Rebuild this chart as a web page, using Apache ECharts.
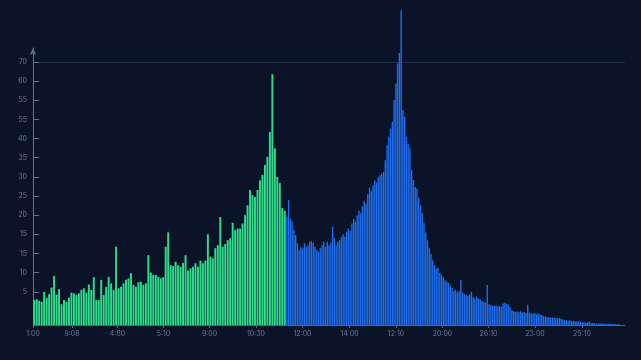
<!DOCTYPE html>
<html>
<head>
<meta charset="utf-8">
<script src="https://cdn.jsdelivr.net/npm/echarts@6/dist/echarts.min.js"></script>
<style>
html,body{margin:0;padding:0;background:#0a1328;}
#chart{width:641px;height:360px;}
</style>
</head>
<body>
<div id="chart"></div>
<script>
// ---- data ----
const greenValues = [
  6.5, 6.7, 6.3, 6.0, 8.6, 7.1, 8.0, 9.7, 12.7, 7.9, 9.3, 5.4, 6.5, 6.0, 7.1, 8.4, 8.2, 7.8, 8.2, 9.1,
  9.5, 8.4, 10.5, 9.1, 12.4, 6.5, 6.5, 11.7, 7.8, 9.9, 12.5, 10.8, 9.1, 20.3, 9.5,
  9.9, 10.8, 11.7, 12.1, 13.4, 10.4, 9.9, 11.1, 11.2, 10.4, 10.8, 18.1, 13.6, 13, 13, 12.5, 12.1, 12.4,
  20.3, 24, 15.5, 15.3, 16.4, 15.5, 15.1, 16.1, 18.1, 14.1, 14.7, 15.1, 16, 15.1, 16.7, 16, 16.7, 23.5,
  17.7, 17.3, 19.9, 20.7, 28, 20.3, 21, 22, 22.5, 26.5, 24.6, 25, 25, 26.3, 28.5,
  31, 35, 33.7, 33.2, 35, 37.5, 38.9, 41.5, 43.6, 50, 65, 45.8, 38.4, 36.8, 30.3, 29.6
];
const blueValues = [
  28, 32.4, 27.6, 26.8, 24.6, 23.3, 21.2, 19.4, 20.3, 19.9, 21.2, 20.3, 20.7, 21.6, 21.8, 21.3, 20.3, 19.4, 19, 19.9,
  20.7, 21.6, 20.3, 21.6, 20.7, 21.3, 25.5, 22.5, 20.7, 21.6,
  22, 22.8, 23.5, 22.9, 24.2, 25, 24.4,
  26.3, 27.5, 26.8, 28.4, 29.6, 29,
  30.8, 32.2, 31.5, 33.9, 35.6, 34.8,
  36.2, 37.5, 36.9, 38.3, 38.8,
  39.3, 39.7, 42.7, 46.6, 48.8, 50.9, 52.7, 58.3, 62.6, 67.8, 70.5, 81.6, 55.7, 54, 48.8, 47, 45.8, 40.2, 37.6, 35.8, 35.4, 33, 31,
  29, 26.5, 24, 22, 20, 18.5, 16.8, 15.5, 14.6,
  14.8, 13.5, 13, 12.4, 11.6, 11.2, 10.9, 10.2, 9.6,
  8.8, 9.2, 8.5, 8.9, 11.7, 8.4,
  8.0, 7.8, 7.5, 7.9, 8.6, 7.2, 6.9, 7.4,
  6.9, 6.6, 6.2, 6.0, 5.8,
  10.4,
  5.4, 5.2, 5.0, 4.9, 5.1, 4.8, 5.0, 4.7,
  5.6, 5.8, 5.5, 5.3, 4.6,
  3.8, 3.6, 3.4, 3.5, 3.3, 3.6, 3.2, 3.4, 3.1,
  5.2,
  3.2, 3.0, 2.9, 3.1, 2.8, 3.0, 2.7, 2.6,
  2.3, 2.2, 2.0, 2.1, 1.9, 2.0, 1.8, 1.9, 1.7, 1.8, 1.6,
  1.4, 1.3, 1.2, 1.1, 1.2, 1.0, 1.1, 0.9, 1.0, 0.9, 0.8, 0.8,
  0.7, 0.6, 0.6, 0.9,
  0.5, 0.5, 0.45, 0.4, 0.4, 0.4, 0.35, 0.35, 0.3, 0.3, 0.3, 0.3, 0.25, 0.25, 0.25, 0.2, 0.2
];
const greenCategories = greenValues.map((_, i) => 'A' + (i + 1));
const blueCategories = blueValues.map((_, i) => 'B' + (i + 1));

const yTickValues = [8.6, 13.57, 18.53, 23.5, 28.46, 33.43, 38.39, 43.36, 48.32, 53.29, 58.25, 63.22, 68.18];
const yTickLabels = ['5', '10', '15', '15', '20', '25', '30', '35', '40', '55', '55', '60', '70'];
const xTickValues = [0, 39, 84.5, 130.5, 176.5, 223, 269.5, 316.5, 363, 409.5, 455.5, 502, 549];
const xTickLabels = ['1:00', '9:08', '4:60', '5:10', '9:00', '10:30', '12:00', '14:00', '12:10', '20:00', '26:10', '23:00', '25:10'];

const Y_MAX = 71.8;
const X_MAX = 592;

// ---- chart ----
const chart = echarts.init(document.getElementById('chart'), null, { renderer: 'canvas' });
const axisColor = '#56637f';
const labelColor = '#6d7892';

function nearestLabel(v, vals, labels) {
  let best = 0, d = Infinity;
  vals.forEach((t, i) => { const dd = Math.abs(t - v); if (dd < d) { d = dd; best = i; } });
  return labels[best];
}

const splitColors = yTickValues.map((_, i) => i === yTickValues.length - 1 ? 'rgba(120,140,180,0.22)' : 'rgba(0,0,0,0)');

chart.setOption({
  backgroundColor: '#0a1328',
  animation: false,
  grid: [
    { left: 33, right: 16, top: 48, bottom: 35 },
    { left: 33, width: 253, top: 48, bottom: 35 },
    { left: 286, width: 334, top: 48, bottom: 35 }
  ],
  xAxis: [
    {
      gridIndex: 0, type: 'value', min: 0, max: X_MAX,
      axisLine: { show: true, lineStyle: { color: axisColor, width: 1 } },
      axisTick: { show: true, customValues: xTickValues, length: 3, lineStyle: { color: axisColor } },
      axisLabel: {
        customValues: xTickValues, color: labelColor, fontSize: 7, margin: 5,
        fontFamily: 'Inter, "DejaVu Sans", sans-serif',
        formatter: v => nearestLabel(v, xTickValues, xTickLabels)
      },
      splitLine: { show: false }
    },
    { gridIndex: 1, type: 'category', data: greenCategories, show: false, boundaryGap: true },
    { gridIndex: 2, type: 'category', data: blueCategories, show: false, boundaryGap: true }
  ],
  yAxis: [
    {
      gridIndex: 0, type: 'value', min: 0, max: Y_MAX,
      axisLine: { show: true, symbol: ['none', 'arrow'], symbolSize: [5, 7], lineStyle: { color: '#65718c', width: 1 } },
      axisTick: { show: true, inside: true, length: 6, customValues: yTickValues, lineStyle: { color: '#65718c' } },
      axisLabel: {
        customValues: yTickValues, color: labelColor, fontSize: 7, margin: 6,
        fontFamily: 'Inter, "DejaVu Sans", sans-serif',
        formatter: v => nearestLabel(v, yTickValues, yTickLabels)
      },
      splitLine: { show: true, lineStyle: { color: splitColors, width: 1 } }
    },
    { gridIndex: 1, type: 'value', min: 0, max: Y_MAX, show: false, splitLine: { show: false } },
    { gridIndex: 2, type: 'value', min: 0, max: Y_MAX, show: false, splitLine: { show: false } }
  ],
  series: [
    {
      type: 'bar', xAxisIndex: 1, yAxisIndex: 1, data: greenValues,
      barCategoryGap: '22%', clip: false, silent: true,
      itemStyle: { color: '#2ddf8d' }
    },
    {
      type: 'bar', xAxisIndex: 2, yAxisIndex: 2, data: blueValues,
      barCategoryGap: '22%', clip: false, silent: true,
      itemStyle: { color: '#1f6ff0' }
    }
  ]
});
</script>
</body>
</html>
